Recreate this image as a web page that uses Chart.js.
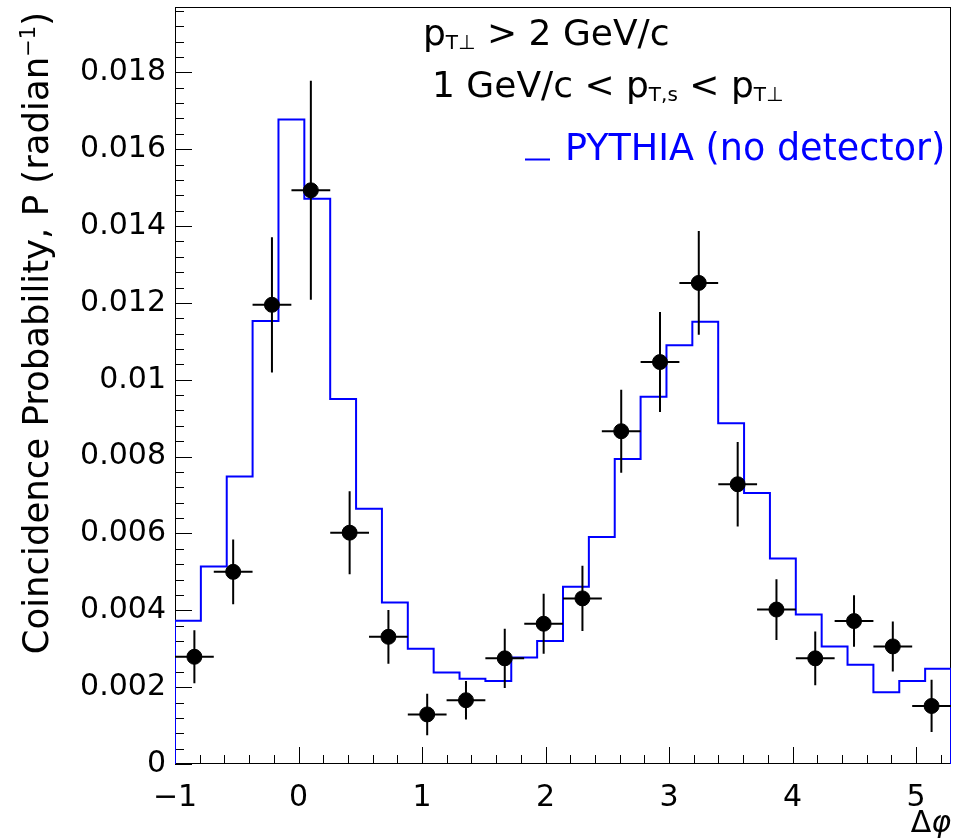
<!DOCTYPE html>
<html lang="en">
<head>
  <meta charset="UTF-8">
  <title>Coincidence probability vs delta phi</title>
  <script src="https://cdn.jsdelivr.net/npm/chart.js"></script>
  <style>
    body { margin: 0; background: #fff; }
    canvas { display: block; }
  </style>
</head>
<body>
<canvas id="chart" width="953" height="839"></canvas>
<script>
// data points (bin width pi/10), values in radian^-1
const pointX = [-0.843, -0.529, -0.215, 0.100, 0.414, 0.728, 1.042, 1.356, 1.670, 1.985,
                2.299, 2.613, 2.927, 3.241, 3.556, 3.870, 4.184, 4.498, 4.812, 5.126];
const pointY = [0.00279, 0.00500, 0.01195, 0.01493, 0.00602, 0.00331, 0.00129, 0.00166, 0.00275, 0.00365,
                0.00431, 0.00866, 0.01046, 0.01252, 0.00728, 0.00402, 0.00275, 0.00372, 0.00306, 0.00151];
const pointErr = [0.00069, 0.00084, 0.00176, 0.00285, 0.00108, 0.00070, 0.00054, 0.00050, 0.00077, 0.00078,
                  0.00085, 0.00108, 0.00130, 0.00135, 0.00110, 0.00079, 0.00070, 0.00067, 0.00065, 0.00068];
const pointHalfWidth = 0.157;

// PYTHIA histogram (bin width pi/15), edges and contents
const histEdges = [-1, -0.7906, -0.5811, -0.3717, -0.1622, 0.0472, 0.2566, 0.4661, 0.6755, 0.8850,
                   1.0944, 1.3038, 1.5133, 1.7227, 1.9322, 2.1416, 2.3510, 2.5605, 2.7699, 2.9794,
                   3.1888, 3.3982, 3.6077, 3.8171, 4.0266, 4.2360, 4.4454, 4.6549, 4.8643, 5.0738, 5.2832];
const histValues = [0.00373, 0.00514, 0.00748, 0.01153, 0.01677, 0.01471, 0.00950, 0.00664, 0.00420, 0.00300,
                    0.00238, 0.00222, 0.00216, 0.00277, 0.00320, 0.00461, 0.00591, 0.00794, 0.00956, 0.01090,
                    0.01151, 0.00887, 0.00705, 0.00535, 0.00389, 0.00306, 0.00258, 0.00187, 0.00216, 0.00248];

const FONT = '"DejaVu Sans", sans-serif';

const histData = [{ x: histEdges[0], y: 0 }];
histValues.forEach((v, i) => histData.push({ x: histEdges[i + 1], y: v }));
histData.push({ x: histEdges[histEdges.length - 1], y: 0 });

const pointData = pointX.map((x, i) => ({ x: x, y: pointY[i] }));

function drawRich(ctx, x, y, parts) {
  parts.forEach(p => {
    ctx.font = (p.style || '') + ' ' + p.size + 'px ' + FONT;
    ctx.fillText(p.t, x, y + (p.dy || 0));
    x += ctx.measureText(p.t).width;
  });
}

function richWidth(ctx, parts) {
  let w = 0;
  parts.forEach(p => {
    ctx.font = (p.style || '') + ' ' + p.size + 'px ' + FONT;
    w += ctx.measureText(p.t).width;
  });
  return w;
}

function noPad(s) {
  s.paddingTop = 0;
  s.paddingBottom = 0;
  s.paddingLeft = 0;
  s.paddingRight = 0;
}

const frameTicks = {
  id: 'frameTicks',
  beforeDatasetsDraw(chart) {
    const { ctx, chartArea: a, scales: { x, y } } = chart;
    ctx.save();
    ctx.strokeStyle = '#000';
    ctx.lineWidth = 1;
    ctx.strokeRect(a.left + 0.5, a.top + 0.5, a.right - a.left - 1, a.bottom - a.top - 1);
    ctx.beginPath();
    x.ticks.forEach(t => {
      for (let k = 0; k < 5; k++) {
        const v = t.value + k * 0.2;
        if (v > x.max) break;
        const px = Math.round(x.getPixelForValue(v)) + 0.5;
        ctx.moveTo(px, a.bottom);
        ctx.lineTo(px, a.bottom - (k === 0 ? 17 : 9));
      }
    });
    y.ticks.forEach(t => {
      for (let k = 0; k < 5; k++) {
        const v = t.value + k * 0.0004;
        if (v > y.max) break;
        const py = Math.round(y.getPixelForValue(v)) + 0.5;
        ctx.moveTo(a.left, py);
        ctx.lineTo(a.left + (k === 0 ? 17 : 9), py);
      }
    });
    ctx.stroke();
    ctx.restore();
  },
  afterDatasetsDraw(chart) {
    const { ctx, scales: { x, y } } = chart;
    ctx.save();
    ctx.strokeStyle = '#000';
    ctx.lineWidth = 2;
    ctx.beginPath();
    pointX.forEach((vx, i) => {
      const px = x.getPixelForValue(vx);
      const py = y.getPixelForValue(pointY[i]);
      ctx.moveTo(px, y.getPixelForValue(pointY[i] + pointErr[i]));
      ctx.lineTo(px, y.getPixelForValue(pointY[i] - pointErr[i]));
      ctx.moveTo(x.getPixelForValue(vx - pointHalfWidth), py);
      ctx.lineTo(x.getPixelForValue(vx + pointHalfWidth), py);
    });
    ctx.stroke();
    ctx.restore();
  },
  afterDraw(chart) {
    const ctx = chart.ctx;
    ctx.save();
    ctx.fillStyle = '#000';
    ctx.textBaseline = 'alphabetic';
    ctx.textAlign = 'left';

    // y axis title, rotated, aligned to top end
    const yTitle = [
      { t: 'Coincidence Probability, P (radian', size: 35.5 },
      { t: '\u22121', size: 21, dy: -13 },
      { t: ')', size: 35.5 }
    ];
    ctx.save();
    ctx.translate(48, 12);
    ctx.rotate(-Math.PI / 2);
    drawRich(ctx, -richWidth(ctx, yTitle), 0, yTitle);
    ctx.restore();

    // x axis title
    const xTitle = [{ t: '\u0394', size: 30 }, { t: '\u03c6', size: 30, style: 'italic' }];
    drawRich(ctx, 951 - richWidth(ctx, xTitle), 832, xTitle);

    // cut labels
    drawRich(ctx, 423, 45, [
      { t: 'p', size: 36 }, { t: 'T\u22a5', size: 20, dy: 4 }, { t: ' > 2 GeV/c', size: 36 }
    ]);
    drawRich(ctx, 432, 97, [
      { t: '1 GeV/c < p', size: 36 }, { t: 'T,s', size: 20, dy: 4 },
      { t: ' < p', size: 36 }, { t: 'T\u22a5', size: 20, dy: 4 }
    ]);

    // legend
    ctx.strokeStyle = '#0000ff';
    ctx.lineWidth = 2;
    ctx.beginPath();
    ctx.moveTo(525, 159.5);
    ctx.lineTo(550, 159.5);
    ctx.stroke();
    ctx.fillStyle = '#0000ff';
    drawRich(ctx, 565, 160, [{ t: 'PYTHIA (no detector)', size: 36.5 }]);
    ctx.restore();
  }
};

new Chart(document.getElementById('chart').getContext('2d'), {
  type: 'scatter',
  data: {
    datasets: [
      {
        label: 'data',
        data: pointData,
        backgroundColor: '#000',
        borderColor: '#000',
        pointRadius: 7.5,
        pointHoverRadius: 7.5
      },
      {
        type: 'line',
        label: 'PYTHIA (no detector)',
        data: histData,
        stepped: 'after',
        borderColor: '#0000ff',
        borderWidth: 2,
        pointRadius: 0,
        fill: false
      }
    ]
  },
  options: {
    responsive: false,
    animation: false,
    devicePixelRatio: 1,
    layout: { autoPadding: false, padding: { top: 7, right: 2, left: 0, bottom: 0 } },
    plugins: { legend: { display: false }, tooltip: { enabled: false } },
    scales: {
      x: {
        type: 'linear',
        min: -1,
        max: 5.2832,
        grid: { display: false, drawTicks: false },
        border: { display: false },
        ticks: {
          stepSize: 1,
          includeBounds: false,
          autoSkip: false,
          maxRotation: 0,
          padding: 16,
          color: '#000',
          font: { family: FONT, size: 30 },
          callback: v => String(v).replace('-', '\u2212')
        },
        afterFit: s => { s.height = 75; noPad(s); }
      },
      y: {
        min: 0,
        max: 0.0197,
        grid: { display: false, drawTicks: false },
        border: { display: false },
        ticks: {
          stepSize: 0.002,
          includeBounds: false,
          autoSkip: false,
          padding: 9,
          color: '#000',
          font: { family: FONT, size: 30 },
          callback: v => String(Number(v.toFixed(4)))
        },
        afterFit: s => { s.width = 175; noPad(s); }
      }
    }
  },
  plugins: [frameTicks]
});
</script>
</body>
</html>
